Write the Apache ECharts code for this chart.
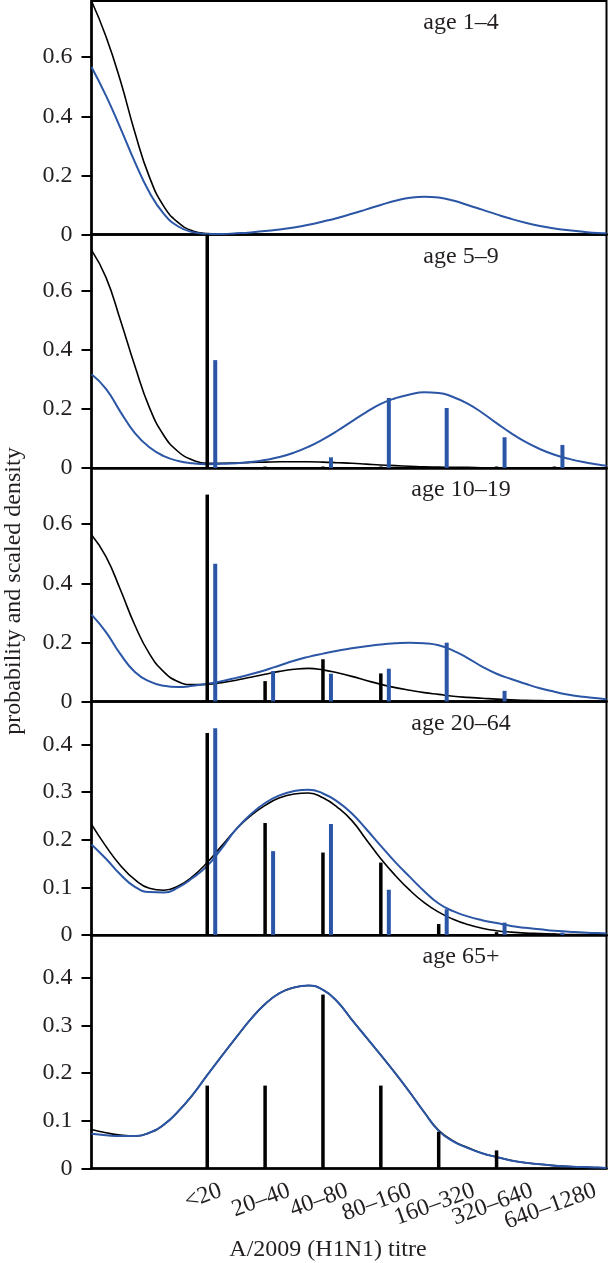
<!DOCTYPE html>
<html><head><meta charset="utf-8">
<script src="https://cdn.jsdelivr.net/npm/echarts@6/dist/echarts.min.js"></script>
<style>html,body{margin:0;padding:0;background:#fff}#c{width:609px;height:1263px}</style>
</head><body><div id="c"></div>
<script>
// ---- data ----
const categories = ['<20', '20–40', '40–80', '80–160', '160–320', '320–640', '640–1280'];
const ageGroups = ['age 1–4', 'age 5–9', 'age 10–19', 'age 20–64', 'age 65+'];
const yTicksHigh = [0, 0.2, 0.4, 0.6];
const yTicksLow = [0, 0.1, 0.2, 0.3, 0.4];
const xAxisTitle = 'A/2009 (H1N1) titre';
const yAxisTitle = 'probability and scaled density';

// curve sample positions (in titre-category units, <20 = 0)
const curveX = [-2, -1.75, -1.5, -1.25, -1, -0.75, -0.5, -0.25, 0, 0.25, 0.5, 0.75, 1, 1.25, 1.5, 1.75, 2, 2.25, 2.5, 2.75,
  3, 3.25, 3.5, 3.75, 4, 4.25, 4.5, 4.75, 5, 5.25, 5.5, 5.75, 6, 6.25, 6.5, 6.75, 6.9];

const blackCurve1 = [0.79, 0.67, 0.52, 0.345, 0.195, 0.095, 0.04, 0.012, 0.003, 0.001, 0, 0, 0, 0, 0, 0, 0, 0, 0, 0,
  0, 0, 0, 0, 0, 0, 0, 0, 0, 0, 0, 0, 0, 0, 0, 0, 0];
const blueCurve1 = [0.567, 0.47, 0.36, 0.245, 0.143, 0.07, 0.027, 0.008, 0.002, 0.002, 0.004, 0.007, 0.012, 0.017, 0.024, 0.033, 0.044, 0.056, 0.07, 0.085,
  0.1, 0.114, 0.124, 0.128, 0.125, 0.115, 0.1, 0.084, 0.068, 0.053, 0.04, 0.029, 0.02, 0.014, 0.009, 0.005, 0.004];

const blackCurve2 = [0.737, 0.645, 0.5, 0.345, 0.205, 0.11, 0.055, 0.027, 0.016, 0.016, 0.017, 0.019, 0.02, 0.021, 0.021, 0.021, 0.02, 0.018, 0.016, 0.013,
  0.01, 0.008, 0.006, 0.004, 0.003, 0.002, 0.002, 0.001, 0.001, 0, 0, 0, 0, 0, 0, 0, 0];
const blueCurve2 = [0.317, 0.268, 0.19, 0.118, 0.07, 0.04, 0.024, 0.016, 0.013, 0.014, 0.016, 0.02, 0.027, 0.037, 0.052, 0.072, 0.097, 0.126, 0.158, 0.189,
  0.217, 0.236, 0.249, 0.256, 0.254, 0.24, 0.218, 0.187, 0.152, 0.118, 0.088, 0.064, 0.045, 0.031, 0.02, 0.012, 0.008];

const blackCurve3 = [0.564, 0.49, 0.378, 0.258, 0.162, 0.1, 0.067, 0.057, 0.058, 0.064, 0.072, 0.082, 0.092, 0.102, 0.109, 0.112, 0.107, 0.097, 0.085, 0.071,
  0.058, 0.047, 0.038, 0.03, 0.024, 0.018, 0.014, 0.011, 0.008, 0.006, 0.004, 0.003, 0.002, 0.001, 0.001, 0, 0];
const blueCurve3 = [0.294, 0.235, 0.16, 0.1, 0.068, 0.053, 0.049, 0.053, 0.06, 0.069, 0.08, 0.092, 0.106, 0.122, 0.138, 0.151, 0.162, 0.172, 0.18, 0.187,
  0.193, 0.197, 0.199, 0.197, 0.19, 0.172, 0.147, 0.118, 0.094, 0.076, 0.06, 0.045, 0.033, 0.023, 0.016, 0.011, 0.008];

const blackCurve4 = [0.232, 0.186, 0.146, 0.116, 0.098, 0.094, 0.103, 0.123, 0.152, 0.187, 0.222, 0.25, 0.272, 0.288, 0.296, 0.298, 0.288, 0.268, 0.24, 0.2,
  0.16, 0.125, 0.094, 0.068, 0.048, 0.033, 0.022, 0.014, 0.009, 0.006, 0.004, 0.003, 0.002, 0.001, 0.001, 0, 0];
const blueCurve4 = [0.19, 0.16, 0.127, 0.101, 0.09, 0.089, 0.1, 0.12, 0.145, 0.182, 0.222, 0.253, 0.277, 0.293, 0.302, 0.305, 0.297, 0.28, 0.255, 0.222,
  0.187, 0.153, 0.122, 0.092, 0.066, 0.05, 0.039, 0.031, 0.025, 0.019, 0.015, 0.012, 0.009, 0.007, 0.005, 0.004, 0.003];

const blackCurve5 = [0.082, 0.075, 0.07, 0.068, 0.075, 0.092, 0.12, 0.155, 0.196, 0.236, 0.275, 0.313, 0.345, 0.368, 0.38, 0.384, 0.375, 0.35, 0.312, 0.275,
  0.238, 0.2, 0.16, 0.118, 0.08, 0.058, 0.044, 0.032, 0.024, 0.017, 0.012, 0.009, 0.006, 0.004, 0.003, 0.002, 0.001];
const blueCurve5 = [0.073, 0.07, 0.068, 0.068, 0.075, 0.092, 0.12, 0.155, 0.196, 0.236, 0.275, 0.313, 0.345, 0.368, 0.38, 0.384, 0.375, 0.35, 0.312, 0.275,
  0.238, 0.2, 0.16, 0.118, 0.079, 0.057, 0.043, 0.032, 0.024, 0.017, 0.012, 0.009, 0.006, 0.004, 0.003, 0.002, 0.001];

// bar probabilities per titre category (null = no bar)
const blackBars1 = [null, null, null, null, null, null, null];
const blueBars1  = [null, null, null, null, null, null, null];
const blackBars2 = [0.79, 0.005, 0.005, 0.005, null, 0.005, 0.005];
const blueBars2  = [0.365, null, 0.036, 0.237, 0.203, 0.104, 0.078];
const blackBars3 = [0.70, 0.069, 0.143, 0.095, 0.004, 0.004, 0.004];
const blueBars3  = [0.466, 0.103, 0.094, 0.111, 0.199, 0.036, null];
const blackBars4 = [0.424, 0.235, 0.173, 0.152, 0.023, 0.006, 0.003];
const blueBars4  = [0.434, 0.176, 0.233, 0.095, 0.054, 0.026, 0.005];
const blackBars5 = [0.174, 0.174, 0.365, 0.174, 0.077, 0.038, null];
const blueBars5  = [null, null, null, null, null, null, null];

// ---- styling / layout ----
const FONT = '"Liberation Serif", "DejaVu Serif", serif';
const TXT = '#231f20';
const BLUE = '#2b56a6';
const panelTops = [1, 234.5, 468, 701.5, 935];
const panelH = 233.5;
const yMax = [0.79, 0.79, 0.79, 0.49, 0.49];

const panels = [
  {bk: blackCurve1, bl: blueCurve1, bb: blackBars1, lb: blueBars1, ticks: yTicksHigh},
  {bk: blackCurve2, bl: blueCurve2, bb: blackBars2, lb: blueBars2, ticks: yTicksHigh},
  {bk: blackCurve3, bl: blueCurve3, bb: blackBars3, lb: blueBars3, ticks: yTicksHigh},
  {bk: blackCurve4, bl: blueCurve4, bb: blackBars4, lb: blueBars4, ticks: yTicksLow},
  {bk: blackCurve5, bl: blueCurve5, bb: blackBars5, lb: blueBars5, ticks: yTicksLow}
];

function barRenderer(offset, width, color) {
  return function (params, api) {
    const x = api.value(0), v = api.value(1);
    const base = api.coord([x, 0]);
    const top = api.coord([x, v]);
    return {type: 'rect', shape: {x: base[0] + offset - width / 2, y: top[1], width: width, height: base[1] - top[1]},
            style: {fill: color}};
  };
}

const grids = [], xAxes = [], yAxes = [], series = [], graphics = [];
panels.forEach((p, i) => {
  grids.push({left: 91.5, right: 2.5, top: panelTops[i], height: panelH, show: true,
              borderColor: '#000', borderWidth: 2, backgroundColor: 'transparent'});
  xAxes.push({type: 'value', gridIndex: i, min: -2, max: 6.9, interval: 1,
    splitLine: {show: false}, axisTick: {show: false}, axisLabel: {show: false},
    axisLine: {show: true, onZero: false, lineStyle: {color: '#000', width: 2.5}}});
  yAxes.push({type: 'value', gridIndex: i, min: 0, max: yMax[i],
    splitLine: {show: false},
    axisLine: {show: true, onZero: false, lineStyle: {color: '#000', width: 2.5}},
    axisTick: {show: true, inside: false, length: 10, lineStyle: {color: '#000', width: 2}, customValues: p.ticks},
    axisLabel: {show: true, customValues: p.ticks, formatter: v => String(+v.toFixed(2)),
      margin: 19, fontFamily: FONT, fontSize: 24, color: TXT}});
  series.push({type: 'line', xAxisIndex: i, yAxisIndex: i, smooth: 0.5, smoothMonotone: 'none', showSymbol: false, z: 2,
    lineStyle: {color: '#000', width: 1.6}, data: curveX.map((x, k) => [x, p.bk[k]])});
  series.push({type: 'line', xAxisIndex: i, yAxisIndex: i, smooth: 0.5, smoothMonotone: 'none', showSymbol: false, z: 3,
    lineStyle: {color: BLUE, width: 2}, data: curveX.map((x, k) => [x, p.bl[k]])});
  const bk = p.bb.map((v, k) => [k, v]).filter(d => d[1] != null);
  const bl = p.lb.map((v, k) => [k, v]).filter(d => d[1] != null);
  if (bk.length) series.push({type: 'custom', xAxisIndex: i, yAxisIndex: i, z: 4,
    renderItem: barRenderer(0, 3.5, '#000'), data: bk});
  if (bl.length) series.push({type: 'custom', xAxisIndex: i, yAxisIndex: i, z: 4,
    renderItem: barRenderer(8, 4, BLUE), data: bl});
  graphics.push({type: 'text', x: 461, y: panelTops[i] + 22, z: 10,
    style: {text: ageGroups[i], font: '24px ' + FONT, fill: TXT, align: 'center', verticalAlign: 'middle'}});
});

graphics.push({type: 'text', x: 328, y: 1250, style: {text: xAxisTitle, font: '24px ' + FONT, fill: TXT,
  align: 'center', verticalAlign: 'middle'}});
graphics.push({type: 'text', x: 14, y: 591, rotation: Math.PI / 2, style: {text: yAxisTitle, font: '24px ' + FONT, fill: TXT,
  align: 'center', verticalAlign: 'middle'}});

const chart = echarts.init(document.getElementById('c'), null, {renderer: 'canvas'});
chart.setOption({animation: false, backgroundColor: '#fff', grid: grids, xAxis: xAxes, yAxis: yAxes, series: series});

// rotated category labels under the bottom panel, placed at the axis positions of the categories
const ctx = document.createElement('canvas').getContext('2d');
ctx.font = '24px ' + FONT;
const ang = 20 * Math.PI / 180;
const labelTop = 1182;
categories.forEach((c, k) => {
  const px = chart.convertToPixel({xAxisIndex: panels.length - 1}, k);
  const w = ctx.measureText(c).width;
  const cy = labelTop + (w * Math.sin(ang) + 17 * Math.cos(ang)) / 2;
  graphics.push({type: 'text', x: px - 4, y: cy, rotation: ang,
    style: {text: c, font: '24px ' + FONT, fill: TXT, align: 'center', verticalAlign: 'middle'}});
});
chart.setOption({graphic: graphics});
</script></body></html>
